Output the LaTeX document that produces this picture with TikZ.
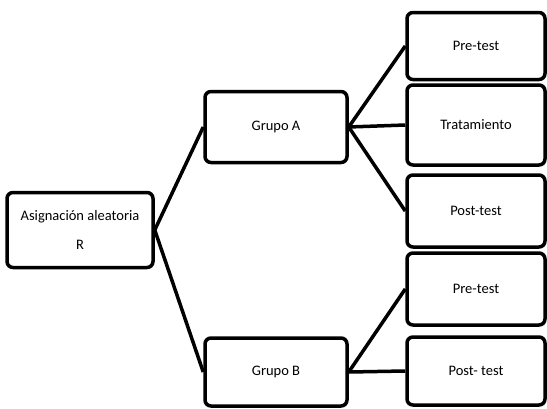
\documentclass[tikz,border=0pt]{standalone}
\usepackage{fontspec}
\setmainfont{Carlito}
\usetikzlibrary{positioning}

\begin{document}
\begin{tikzpicture}[x=1pt,y=-1pt,
  caja/.style={draw, line width=3.5pt, rounded corners=6pt, fill=white,
    align=center, inner sep=0pt, font=\fontsize{14.5}{29}\selectfont},
  rama/.style={line width=3.5pt}]
\useasboundingbox (0,0) rectangle (547,408);

% Asignacion
\node[caja, minimum width=146pt, minimum height=75pt] (asig) at (80,230) {Asignación aleatoria\\R};

% Grupos
\node[caja, minimum width=142pt, minimum height=71pt] (grupoA) at (276,127) {Grupo A};
\node[caja, minimum width=142pt, minimum height=68pt] (grupoB) at (276,372) {Grupo B};

% Etapas
\node[caja, minimum width=138pt, minimum height=67pt] (preA) at (476,46) {Pre-test};
\node[caja, minimum width=138pt, minimum height=80pt] (trat) at (476,125) {Tratamiento};
\node[caja, minimum width=138pt, minimum height=72pt] (postA) at (476,211) {Post-test};
\node[caja, minimum width=138pt, minimum height=72pt] (preB) at (476,289) {Pre-test};
\node[caja, minimum width=138pt, minimum height=68pt] (postB) at (476,371) {Post- test};

% Ramas
\draw[rama] (asig.east) -- (grupoA.west);
\draw[rama] (asig.east) -- (grupoB.west);
\draw[rama] (grupoA.east) -- (preA.west);
\draw[rama] (grupoA.east) -- (trat.west);
\draw[rama] (grupoA.east) -- (postA.west);
\draw[rama] (grupoB.east) -- (preB.west);
\draw[rama] (grupoB.east) -- (postB.west);
\end{tikzpicture}
\end{document}
